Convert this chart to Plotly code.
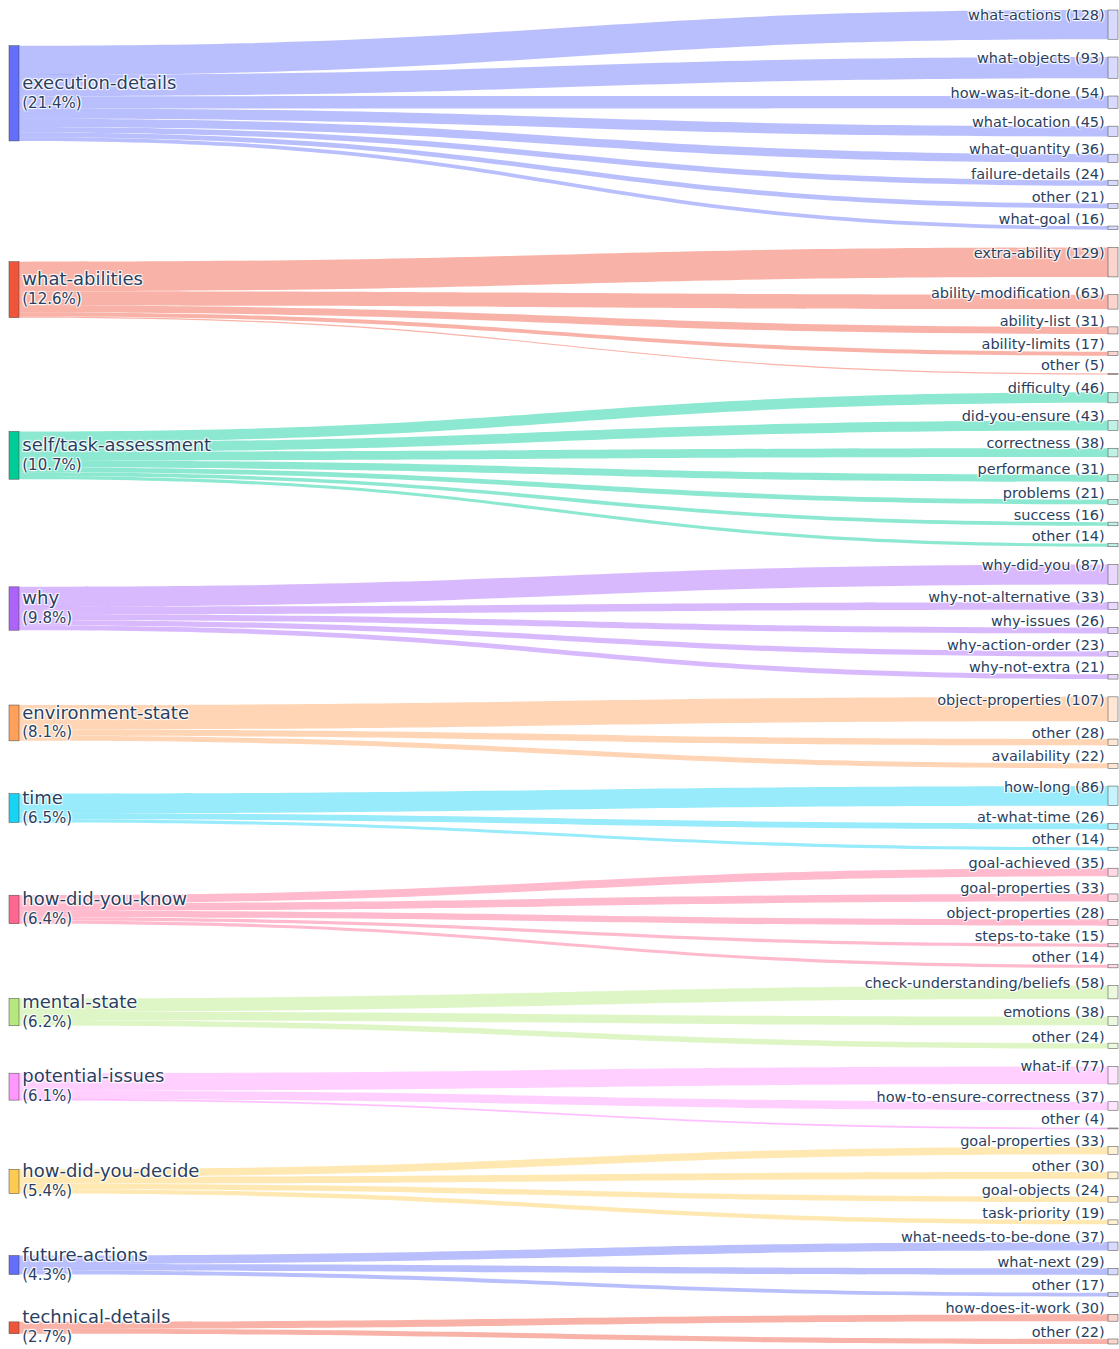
import plotly.graph_objects as go

categories = ["execution-details", "what-abilities", "self/task-assessment", "why",
              "environment-state", "time", "how-did-you-know", "mental-state",
              "potential-issues", "how-did-you-decide", "future-actions", "technical-details"]

subcategories = [
    ["what-actions", "what-objects", "how-was-it-done", "what-location", "what-quantity",
     "failure-details", "other", "what-goal"],
    ["extra-ability", "ability-modification", "ability-list", "ability-limits", "other"],
    ["difficulty", "did-you-ensure", "correctness", "performance", "problems", "success", "other"],
    ["why-did-you", "why-not-alternative", "why-issues", "why-action-order", "why-not-extra"],
    ["object-properties", "other", "availability"],
    ["how-long", "at-what-time", "other"],
    ["goal-achieved", "goal-properties", "object-properties", "steps-to-take", "other"],
    ["check-understanding/beliefs", "emotions", "other"],
    ["what-if", "how-to-ensure-correctness", "other"],
    ["goal-properties", "other", "goal-objects", "task-priority"],
    ["what-needs-to-be-done", "what-next", "other"],
    ["how-does-it-work", "other"],
]

counts = [
    [128, 93, 54, 45, 36, 24, 21, 16],
    [129, 63, 31, 17, 5],
    [46, 43, 38, 31, 21, 16, 14],
    [87, 33, 26, 23, 21],
    [107, 28, 22],
    [86, 26, 14],
    [35, 33, 28, 15, 14],
    [58, 38, 24],
    [77, 37, 4],
    [33, 30, 24, 19],
    [37, 29, 17],
    [30, 22],
]

palette = ["#636EFA", "#EF553B", "#00CC96", "#AB63FA", "#FFA15A", "#19D3F3",
           "#FF6692", "#B6E880", "#FF97FF", "#FECB52"]


def rgba(hexc, a):
    hexc = hexc.lstrip("#")
    r, g, b = int(hexc[0:2], 16), int(hexc[2:4], 16), int(hexc[4:6], 16)
    return f"rgba({r},{g},{b},{a})"


total = sum(sum(c) for c in counts)

labels, node_colors = [], []
for i, cat in enumerate(categories):
    pct = 100.0 * sum(counts[i]) / total
    labels.append(f"<span style='font-size:18px'>{cat}</span><br>"
                  f"<span style='font-size:15px'>({pct:.1f}%)</span>")
    node_colors.append(palette[i % len(palette)])

sources, targets, values, link_colors = [], [], [], []
for i, subs in enumerate(subcategories):
    col = palette[i % len(palette)]
    for s, v in zip(subs, counts[i]):
        idx = len(labels)
        labels.append(f"{s} ({v})<br> ")
        node_colors.append(rgba(col, 0.25))
        sources.append(i)
        targets.append(idx)
        values.append(v)
        link_colors.append(rgba(col, 0.45))

fig = go.Figure(go.Sankey(
    arrangement="snap",
    node=dict(label=labels, color=node_colors, pad=18, thickness=10,
              line=dict(color="#444", width=0.5)),
    link=dict(source=sources, target=targets, value=values, color=link_colors),
    textfont=dict(family="DejaVu Sans, Verdana, sans-serif", size=14.5, color="#2a3f5f"),
))
fig.update_layout(
    width=1119, height=1349,
    margin=dict(l=9, r=1, t=10, b=5),
    paper_bgcolor="white",
    font=dict(family="DejaVu Sans, Verdana, sans-serif"),
)
fig.write_html(
    "out.html",
    config={"displayModeBar": False},
    post_script=("document.documentElement.style.overflow='hidden';"
                 "document.body.style.overflow='hidden';"
                 "document.body.style.margin='0px';"),
)
